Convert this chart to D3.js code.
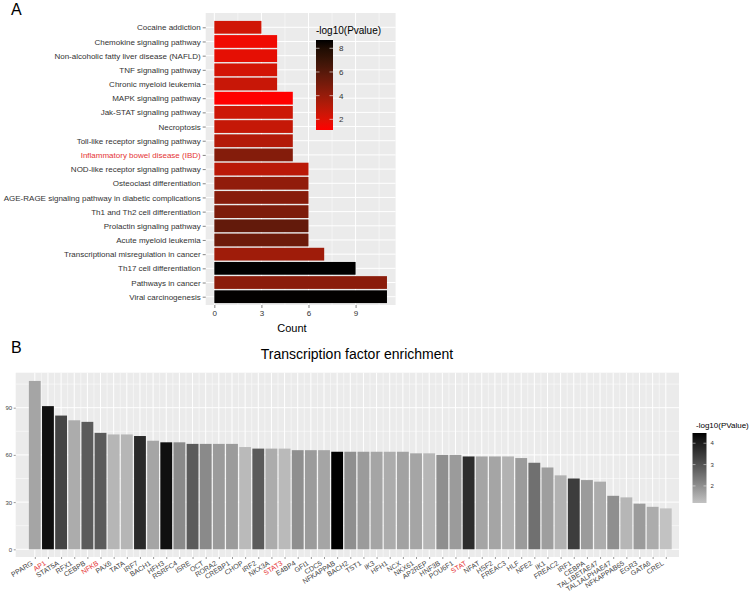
<!DOCTYPE html>
<html>
<head>
<meta charset="utf-8">
<script src="https://cdn.jsdelivr.net/npm/d3@7"></script>
<style>
  body { margin: 0; background: #fff; }
  text { font-family: "Liberation Sans", Arial, sans-serif; }
</style>
</head>
<body>
<script>
// Panel A: KEGG pathways (top to bottom)
const pathways = [
  "Cocaine addiction", "Chemokine signaling pathway", "Non-alcoholic fatty liver disease (NAFLD)",
  "TNF signaling pathway", "Chronic myeloid leukemia", "MAPK signaling pathway",
  "Jak-STAT signaling pathway", "Necroptosis", "Toll-like receptor signaling pathway",
  "Inflammatory bowel disease (IBD)", "NOD-like receptor signaling pathway", "Osteoclast differentiation",
  "AGE-RAGE signaling pathway in diabetic complications", "Th1 and Th2 cell differentiation",
  "Prolactin signaling pathway", "Acute myeloid leukemia", "Transcriptional misregulation in cancer",
  "Th17 cell differentiation", "Pathways in cancer", "Viral carcinogenesis"
];
const pathwayCount = [3, 4, 4, 4, 4, 5, 5, 5, 5, 5, 6, 6, 6, 6, 6, 6, 7, 9, 11, 11];
const pathwayLogP = [2.4, 1.5, 1.8, 2.3, 2.6, 1.1, 2.5, 2.7, 3.2, 4.6, 3.0, 4.2, 4.5, 4.8, 5.6, 5.3, 3.8, 8.7, 4.4, 8.65];
const highlightA = ["Inflammatory bowel disease (IBD)"];
const countTicks = [0, 3, 6, 9];
const legendTicksA = [2, 4, 6, 8];

// Panel B: transcription factors
const tfs = ["PPARG", "AP1", "STAT5A", "RFX1", "CEBPB", "NFKB", "PAX6", "TATA", "IRF7", "BACH1",
  "HFH3", "RSRFC4", "ISRE", "OCT", "RORA2", "CREBP1", "CHOP", "IRF2", "NKX3A", "STAT3",
  "E4BP4", "GFI1", "CDC5", "NFKAPPAB", "BACH2", "TST1", "IK3", "HFH1", "NCX", "NKX61",
  "AP2REP", "HNF3B", "POU6F1", "STAT", "NFAT", "HSF2", "FREAC3", "HLF", "NFE2", "IK1",
  "FREAC2", "IRF1", "CEBPA", "TAL1BETAE47", "TAL1ALPHAE47", "NFKAPPAB65", "EGR3", "GATA6", "CREL"];
const tfCount = [107, 91, 85, 82, 81, 74, 73, 73, 72, 69,
  68, 68, 67, 67, 67, 67, 65, 64, 64, 64,
  63, 63, 63, 62, 62, 62, 62, 62, 62, 61,
  61, 60, 60, 59, 59, 59, 59, 58, 55, 52,
  47, 45, 44, 43, 34, 33, 29, 27, 26];
const tfLogP = [1.64, 4.28, 3.26, 1.54, 2.87, 2.87, 1.38, 1.38, 3.76, 1.64,
  4.28, 2.07, 2.87, 2.07, 1.81, 1.81, 1.32, 2.87, 1.54, 1.32,
  2.0, 1.81, 1.64, 4.48, 2.0, 1.81, 1.64, 1.54, 1.7, 1.64,
  1.38, 2.0, 1.81, 3.7, 1.64, 1.64, 1.45, 1.81, 2.5, 1.75,
  1.45, 3.4, 1.81, 1.54, 2.0, 1.38, 1.81, 1.54, 1.2];
const highlightB = ["AP1", "NFKB", "STAT3", "STAT"];
const tfTicks = [0, 30, 60, 90];
const legendTicksB = [2, 3, 4];

const W = 753, H = 593;
const panelBg = "#ebebeb", red = "#e53535";

const svg = d3.select("body").append("svg")
  .attr("width", W).attr("height", H);

// ---------- Panel A ----------
const A = { left: 205.7, right: 395.6, top: 13, bottom: 305 };
const xA = d3.scaleLinear().domain([-0.55, 11.55]).range([A.left, A.right]);
const yA = d3.scalePoint().domain(pathways).range([27.3, 296.7]);
const bandA = yA.step() * 0.9;
const colorA = d3.scaleLinear().domain(d3.extent(pathwayLogP))
  .range(["#ff0000", "#000000"]).interpolate(d3.interpolateLab);

const gA = svg.append("g");
gA.append("rect").attr("x", A.left).attr("y", A.top)
  .attr("width", A.right - A.left).attr("height", A.bottom - A.top).attr("fill", panelBg);

// grid
gA.selectAll(".minorx").data([1.5, 4.5, 7.5, 10.5]).join("line")
  .attr("x1", d => xA(d)).attr("x2", d => xA(d)).attr("y1", A.top).attr("y2", A.bottom)
  .attr("stroke", "#fff").attr("stroke-width", 0.5);
gA.selectAll(".majorx").data(countTicks).join("line")
  .attr("x1", d => xA(d)).attr("x2", d => xA(d)).attr("y1", A.top).attr("y2", A.bottom)
  .attr("stroke", "#fff").attr("stroke-width", 1);
gA.selectAll(".majory").data(pathways).join("line")
  .attr("x1", A.left).attr("x2", A.right).attr("y1", d => yA(d)).attr("y2", d => yA(d))
  .attr("stroke", "#fff").attr("stroke-width", 1);

// bars
gA.selectAll(".barA").data(pathways).join("rect")
  .attr("x", xA(0))
  .attr("y", d => yA(d) - bandA / 2)
  .attr("width", (d, i) => xA(pathwayCount[i]) - xA(0))
  .attr("height", bandA)
  .attr("fill", (d, i) => colorA(pathwayLogP[i]));

// y axis
const axA = gA.append("g").attr("transform", `translate(${A.left},0)`)
  .call(d3.axisLeft(yA).tickSize(3).tickPadding(2));
axA.select(".domain").remove();
axA.selectAll(".tick line").attr("stroke", "#333").attr("stroke-width", 0.6);
axA.selectAll(".tick text").attr("font-size", 8).attr("fill", d => highlightA.includes(d) ? red : "#333")
  .style("font-family", "Liberation Sans, Arial, sans-serif");

// x axis
const axAx = gA.append("g").attr("transform", `translate(0,${A.bottom})`)
  .call(d3.axisBottom(xA).tickValues(countTicks).tickSize(3).tickPadding(2));
axAx.select(".domain").remove();
axAx.selectAll(".tick line").attr("stroke", "#333").attr("stroke-width", 0.6);
axAx.selectAll(".tick text").attr("font-size", 8).attr("fill", "#333")
  .style("font-family", "Liberation Sans, Arial, sans-serif");
gA.append("text").attr("x", 292).attr("y", 332).attr("text-anchor", "middle")
  .attr("font-size", 11).text("Count");

// legend A
const defs = svg.append("defs");
const gradA = defs.append("linearGradient").attr("id", "gradA")
  .attr("x1", 0).attr("y1", 1).attr("x2", 0).attr("y2", 0);
d3.range(0, 1.01, 0.1).forEach(t => {
  const v = colorA.domain()[0] + t * (colorA.domain()[1] - colorA.domain()[0]);
  gradA.append("stop").attr("offset", t).attr("stop-color", colorA(v));
});
const legA = { x: 316, w: 17, top: 40, bottom: 130 };
const lyA = d3.scaleLinear().domain(colorA.domain()).range([legA.bottom, legA.top]);
gA.append("text").attr("x", 316).attr("y", 34).attr("font-size", 10).text("-log10(Pvalue)");
gA.append("rect").attr("x", legA.x).attr("y", legA.top).attr("width", legA.w)
  .attr("height", legA.bottom - legA.top).attr("fill", "url(#gradA)");
legendTicksA.forEach(v => {
  gA.append("line").attr("x1", legA.x).attr("x2", legA.x + 3.5).attr("y1", lyA(v)).attr("y2", lyA(v))
    .attr("stroke", "#fff").attr("stroke-width", 0.6);
  gA.append("line").attr("x1", legA.x + legA.w - 3.5).attr("x2", legA.x + legA.w).attr("y1", lyA(v)).attr("y2", lyA(v))
    .attr("stroke", "#fff").attr("stroke-width", 0.6);
  gA.append("text").attr("x", legA.x + legA.w + 6).attr("y", lyA(v) + 3).attr("font-size", 8)
    .attr("fill", "#333").text(v);
});

svg.append("text").attr("x", 11).attr("y", 15).attr("font-size", 16).text("A");

// ---------- Panel B ----------
const B = { left: 15.7, right: 679, top: 372.7, bottom: 557 };
const xB = d3.scalePoint().domain(tfs).range([34.8, 665.8]);
const bandB = xB.step() * 0.9;
const yB = d3.scaleLinear().domain([0, 90]).range([549.3, 407.7]);
const colorB = d3.scaleLinear().domain(d3.extent(tfLogP))
  .range(["#c2c2c2", "#000000"]).interpolate(d3.interpolateLab);

const gB = svg.append("g");
gB.append("rect").attr("x", B.left).attr("y", B.top)
  .attr("width", B.right - B.left).attr("height", B.bottom - B.top).attr("fill", panelBg);

gB.selectAll(".minory").data([15, 45, 75, 105]).join("line")
  .attr("x1", B.left).attr("x2", B.right).attr("y1", d => yB(d)).attr("y2", d => yB(d))
  .attr("stroke", "#fff").attr("stroke-width", 0.5);
gB.selectAll(".majory").data(tfTicks).join("line")
  .attr("x1", B.left).attr("x2", B.right).attr("y1", d => yB(d)).attr("y2", d => yB(d))
  .attr("stroke", "#fff").attr("stroke-width", 1);
gB.selectAll(".minorx").data(tfs.slice(1)).join("line")
  .attr("x1", d => xB(d) - xB.step() / 2).attr("x2", d => xB(d) - xB.step() / 2)
  .attr("y1", B.top).attr("y2", B.bottom)
  .attr("stroke", "#fff").attr("stroke-width", 0.5);
gB.selectAll(".majorx").data(tfs).join("line")
  .attr("x1", d => xB(d)).attr("x2", d => xB(d)).attr("y1", B.top).attr("y2", B.bottom)
  .attr("stroke", "#fff").attr("stroke-width", 1);

gB.selectAll(".barB").data(tfs).join("rect")
  .attr("x", d => xB(d) - bandB / 2)
  .attr("y", (d, i) => yB(tfCount[i]))
  .attr("width", bandB)
  .attr("height", (d, i) => yB(0) - yB(tfCount[i]))
  .attr("fill", (d, i) => colorB(tfLogP[i]));

const axBy = gB.append("g").attr("transform", `translate(${B.left},0)`)
  .call(d3.axisLeft(yB).tickValues(tfTicks).tickSize(2).tickPadding(1.5));
axBy.select(".domain").remove();
axBy.selectAll(".tick line").attr("stroke", "#333").attr("stroke-width", 0.5);
axBy.selectAll(".tick text").attr("font-size", 6).attr("fill", "#444")
  .style("font-family", "Liberation Sans, Arial, sans-serif");

const axBx = gB.append("g").attr("transform", `translate(0,${B.bottom})`)
  .call(d3.axisBottom(xB).tickSize(2).tickPadding(0));
axBx.select(".domain").remove();
axBx.selectAll(".tick line").attr("stroke", "#333").attr("stroke-width", 0.5);
axBx.selectAll(".tick text")
  .attr("font-size", 7).attr("fill", d => highlightB.includes(d) ? red : "#444")
  .attr("text-anchor", "end").attr("dy", null).attr("y", 0)
  .attr("transform", "translate(-2,7.5) rotate(-32)")
  .style("font-family", "Liberation Sans, Arial, sans-serif");

gB.append("text").attr("x", 357).attr("y", 359).attr("text-anchor", "middle")
  .attr("font-size", 14).text("Transcription factor enrichment");

// legend B
const gradB = defs.append("linearGradient").attr("id", "gradB")
  .attr("x1", 0).attr("y1", 1).attr("x2", 0).attr("y2", 0);
d3.range(0, 1.01, 0.1).forEach(t => {
  const v = colorB.domain()[0] + t * (colorB.domain()[1] - colorB.domain()[0]);
  gradB.append("stop").attr("offset", t).attr("stop-color", colorB(v));
});
const legB = { x: 692.5, w: 14, top: 433, bottom: 503 };
const lyB = d3.scaleLinear().domain(colorB.domain()).range([legB.bottom, legB.top]);
gB.append("text").attr("x", 696).attr("y", 428).attr("font-size", 8).text("-log10(PValue)");
gB.append("rect").attr("x", legB.x).attr("y", legB.top).attr("width", legB.w)
  .attr("height", legB.bottom - legB.top).attr("fill", "url(#gradB)");
legendTicksB.forEach(v => {
  gB.append("line").attr("x1", legB.x).attr("x2", legB.x + 3).attr("y1", lyB(v)).attr("y2", lyB(v))
    .attr("stroke", "#fff").attr("stroke-width", 0.5);
  gB.append("line").attr("x1", legB.x + legB.w - 3).attr("x2", legB.x + legB.w).attr("y1", lyB(v)).attr("y2", lyB(v))
    .attr("stroke", "#fff").attr("stroke-width", 0.5);
  gB.append("text").attr("x", legB.x + legB.w + 4).attr("y", lyB(v) + 2.2).attr("font-size", 6)
    .attr("fill", "#333").text(v);
});

svg.append("text").attr("x", 11).attr("y", 353).attr("font-size", 16).text("B");
</script>
</body>
</html>
